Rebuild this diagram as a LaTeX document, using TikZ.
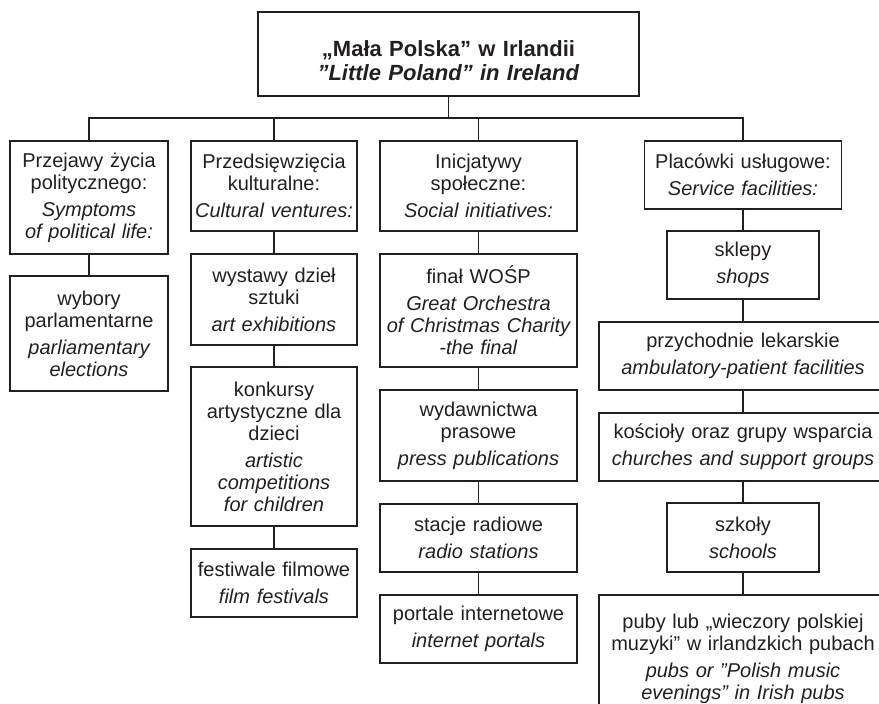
\documentclass[tikz,border=0pt]{standalone}
\usepackage{fontspec}
\setmainfont{Liberation Sans}
\definecolor{ink}{RGB}{35,31,32}
\newcommand{\bilabel}[2]{#1\\[5pt]\textit{#2}}

\begin{document}
\begin{tikzpicture}[x=1pt,y=-1pt,
        every node/.style={draw=ink,text=ink,line width=1.3pt,inner xsep=3pt,inner ysep=0pt,
            align=center,font=\fontsize{20}{22}\selectfont},
        head/.style={line width=2.6pt,minimum width=381pt,minimum height=84pt,text width=375pt,
            font=\fontsize{22}{24}\selectfont\bfseries},
        narrow/.style={minimum width=158pt,text width=152pt},
        mid/.style={minimum width=166pt,text width=160pt},
        wide/.style={minimum width=197pt,text width=191pt},
        small/.style={minimum width=152pt,text width=146pt},
        long/.style={minimum width=288pt,text width=282pt},
        link/.style={draw=ink,line width=1.3pt}]
    \useasboundingbox (0,0) rectangle (879,704);
    \clip (0,0) rectangle (879,704);

    \node[head] (top) at (448.5,54) {\rule{0pt}{29pt}„Mała Polska” w Irlandii\\\textit{”Little Poland” in Ireland}};

    % first level
    \node[narrow, minimum height=113pt] (polit) at (89,197.5) {\bilabel{Przejawy życia\\politycznego:}{Symptoms\\of political life:}};
    \node[mid, minimum height=90pt] (kult) at (274,186) {\bilabel{Przedsięwzięcia\\kulturalne:}{Cultural ventures:}};
    \node[wide, minimum height=90pt] (spol) at (478.5,186) {\bilabel{Inicjatywy\\społeczne:}{Social initiatives:}};
    \node[wide, minimum height=68pt] (uslug) at (743,175) {\bilabel{Placówki usługowe:}{Service facilities:}};

    % columns
    \node[narrow, minimum height=115pt] (wybory) at (89,333.5) {\bilabel{wybory\\parlamentarne}{parliamentary\\elections}};

    \node[mid, minimum height=91pt] (wystawy) at (274,299.5) {\bilabel{wystawy dzieł\\sztuki}{art exhibitions}};
    \node[mid, minimum height=159pt] (konkursy) at (274,446.5) {\bilabel{konkursy\\artystyczne dla\\dzieci}{artistic\\competitions\\for children}};
    \node[mid, minimum height=68pt] (festiwale) at (274,583) {\bilabel{festiwale filmowe}{film festivals}};

    \node[wide, minimum height=113pt] (wosp) at (478.5,310.5) {\bilabel{finał WOŚP}{Great Orchestra\\of Christmas Charity\\-the final}};
    \node[wide, minimum height=91pt] (prasa) at (478.5,435.5) {\bilabel{wydawnictwa\\prasowe}{press publications}};
    \node[wide, minimum height=68pt] (radio) at (478.5,538) {\bilabel{stacje radiowe}{radio stations}};
    \node[wide, minimum height=68pt] (portale) at (478.5,629) {\bilabel{portale internetowe}{internet portals}};

    \node[small, minimum height=68pt] (sklepy) at (743,265) {\bilabel{sklepy}{shops}};
    \node[long, minimum height=68pt] (przych) at (743,356) {\bilabel{przychodnie lekarskie}{ambulatory-patient facilities}};
    \node[long, minimum height=68pt] (koscioly) at (743,447) {\bilabel{kościoły oraz grupy wsparcia}{churches and support groups}};
    \node[small, minimum height=69pt] (szkoly) at (743,537.5) {\bilabel{szkoły}{schools}};
    \node[long, minimum height=128pt] (puby) at (743,659) {\bilabel{puby lub „wieczory polskiej\\muzyki” w irlandzkich pubach}{pubs or ”Polish music\\evenings” in Irish pubs}};

    % connectors
    \coordinate (bus) at (0,118);
    \foreach \n in {polit,kult,spol,uslug}
        \draw[link] (top.south) |- (\n.north |- bus) -- (\n.north);
    \foreach \u/\v in {polit/wybory,kult/wystawy,wystawy/konkursy,konkursy/festiwale,
            spol/wosp,wosp/prasa,prasa/radio,radio/portale,
            uslug/sklepy,sklepy/przych,przych/koscioly,koscioly/szkoly,szkoly/puby}
        \draw[link] (\u.south) -- (\v.north);
\end{tikzpicture}
\end{document}
